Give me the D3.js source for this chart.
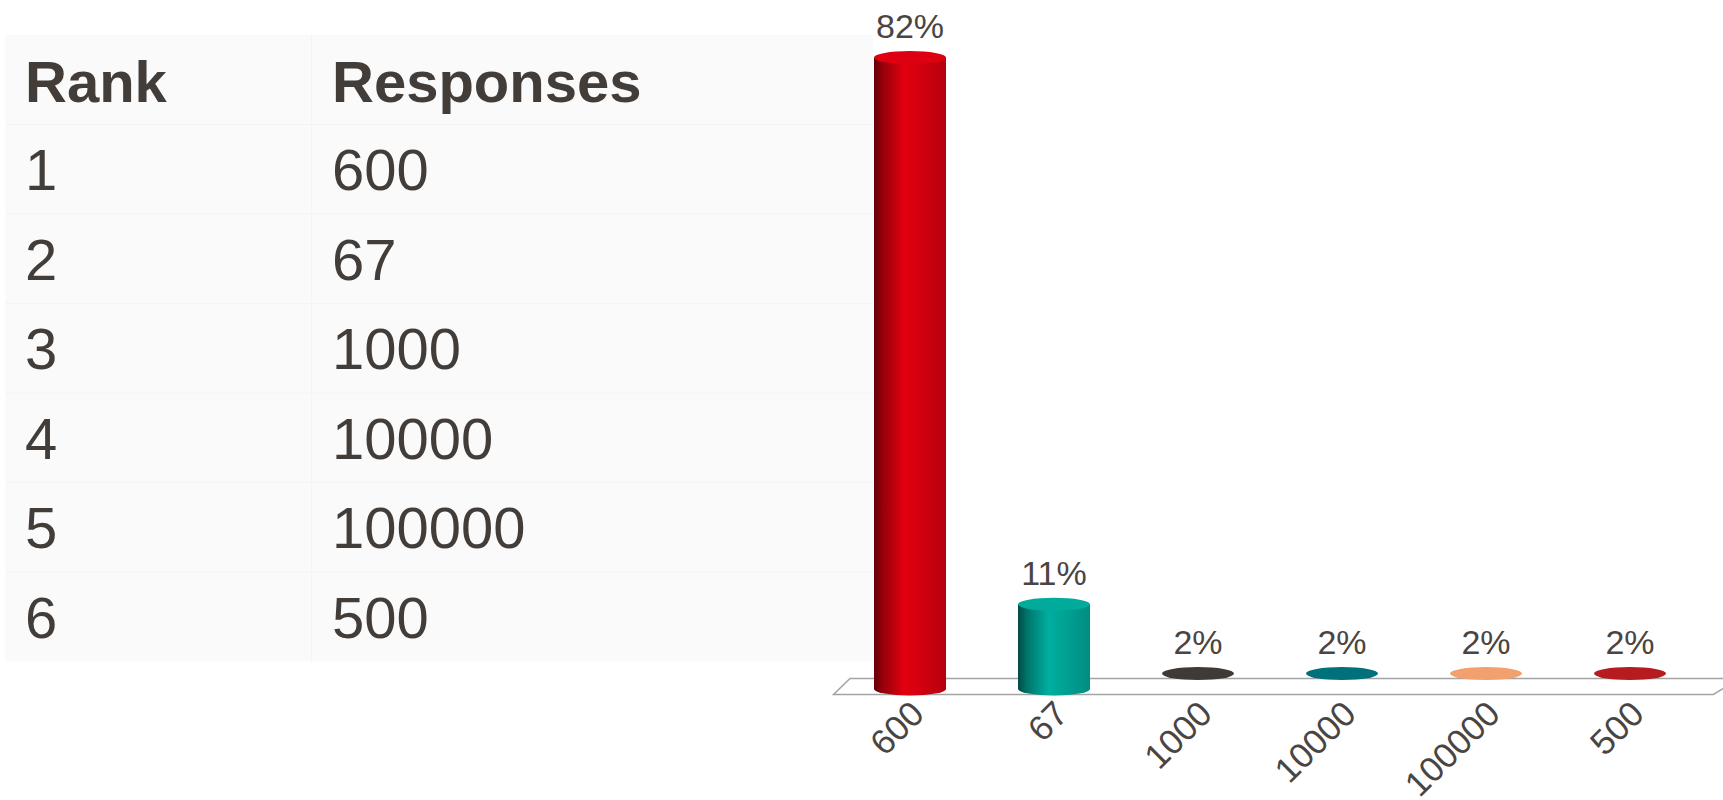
<!DOCTYPE html>
<html>
<head>
<meta charset="utf-8">
<script src="https://cdn.jsdelivr.net/npm/d3@7"></script>
<style>
  html, body { margin: 0; padding: 0; background: #ffffff; }
  svg { display: block; font-family: "Liberation Sans", Arial, sans-serif; }
</style>
</head>
<body>
<svg id="chart" width="1723" height="800"></svg>
<script>
// Response options and their share of answers
const ranks = [1, 2, 3, 4, 5, 6];
const responses = ["600", "67", "1000", "10000", "100000", "500"];
const percents = [82, 11, 2, 2, 2, 2];
const tableHeaders = ["Rank", "Responses"];
const barColors = ["#d6000f", "#00a597", "#403a37", "#00717b", "#f2a06e", "#b51b1f"];

const svg = d3.select("#chart");
const textColor = "#433d3a";

// ---------- table ----------
const tbl = { x: 5, y: 35, width: 868, headerH: 89.5, rowH: 89.5, col2: 311.5 };
const tableH = tbl.headerH + tbl.rowH * ranks.length;
const tg = svg.append("g");

tg.append("rect")
  .attr("x", tbl.x).attr("y", tbl.y)
  .attr("width", tbl.width).attr("height", tableH)
  .attr("fill", "#fafafa");

// faint cell borders
tg.append("line")
  .attr("x1", tbl.col2).attr("x2", tbl.col2)
  .attr("y1", tbl.y).attr("y2", tbl.y + tableH)
  .attr("stroke", "#f4f4f4").attr("stroke-width", 1);
tg.selectAll("line.row")
  .data(ranks)
  .join("line")
  .attr("class", "row")
  .attr("x1", tbl.x).attr("x2", tbl.x + tbl.width)
  .attr("y1", (d, i) => tbl.y + tbl.headerH + i * tbl.rowH)
  .attr("y2", (d, i) => tbl.y + tbl.headerH + i * tbl.rowH)
  .attr("stroke", "#f4f4f4").attr("stroke-width", 1);

const colX = [25, 332];
tg.selectAll("text.head")
  .data(tableHeaders)
  .join("text")
  .attr("class", "head")
  .attr("x", (d, i) => colX[i])
  .attr("y", tbl.y + tbl.headerH / 2 + 22)
  .attr("font-size", 58)
  .attr("font-weight", "bold")
  .attr("fill", textColor)
  .text(d => d);

const rowCenter = i => tbl.y + tbl.headerH + i * tbl.rowH + tbl.rowH / 2;
tg.selectAll("text.rank")
  .data(ranks)
  .join("text")
  .attr("class", "rank")
  .attr("x", colX[0])
  .attr("y", (d, i) => rowCenter(i) + 21)
  .attr("font-size", 58)
  .attr("fill", textColor)
  .text(d => d);
tg.selectAll("text.resp")
  .data(responses)
  .join("text")
  .attr("class", "resp")
  .attr("x", colX[1])
  .attr("y", (d, i) => rowCenter(i) + 21)
  .attr("font-size", 58)
  .attr("fill", textColor)
  .text(d => d);

// ---------- 3D cylinder bar chart ----------
const baseY = 689;
const x = d3.scaleBand()
  .domain(responses)
  .range([838, 1702])
  .paddingInner(0.5)
  .paddingOuter(0.25);
const y = d3.scaleLinear().domain([0, 100]).range([baseY, baseY - 770]);

const ry = 6.5;            // vertical radius of the cylinder ellipses
const floorTop = 678.5, floorBottom = 694.5, skew = 16.5;
const floorDepth = baseY - floorTop + ry;

const defs = svg.append("defs");
const shadeStops = (c) => {
  const col = d3.color(c);
  return [
    [0, col.darker(2.2)],
    [0.12, col.darker(1.0)],
    [0.42, col.brighter(0.15)],
    [0.6, col],
    [1, col.darker(0.45)]
  ];
};
barColors.forEach((c, i) => {
  const g = defs.append("linearGradient")
    .attr("id", "shade" + i)
    .attr("x1", "0%").attr("x2", "100%").attr("y1", "0%").attr("y2", "0%");
  shadeStops(c).forEach(([o, s]) => {
    g.append("stop").attr("offset", o).attr("stop-color", s.formatHex());
  });
});

// floor slab
const cg = svg.append("g");
cg.append("path")
  .attr("d", `M${850},${floorTop} L${1723 + skew},${floorTop} L${1713.5},${floorBottom} L${850 - skew},${floorBottom} Z`)
  .attr("fill", "#ffffff")
  .attr("stroke", "#a3a3a3")
  .attr("stroke-width", 1.5);

const bars = responses.map((r, i) => ({ key: r, value: percents[i], color: barColors[i], idx: i }));
const bw = x.bandwidth();

const barG = cg.selectAll("g.bar")
  .data(bars)
  .join("g")
  .attr("class", "bar");

// cylinder bodies; bars shallower than the floor slab show only their caps
barG.filter(d => baseY - y(d.value) > floorDepth)
  .append("path")
  .attr("d", d => {
    const l = x(d.key), r = l + bw, t = y(d.value);
    return `M${l},${t} L${l},${baseY} A${bw / 2},${ry} 0 0 0 ${r},${baseY} L${r},${t} Z`;
  })
  .attr("fill", d => `url(#shade${d.idx})`);

// top caps
barG.append("ellipse")
  .attr("cx", d => x(d.key) + bw / 2)
  .attr("cy", d => y(d.value))
  .attr("rx", bw / 2)
  .attr("ry", ry)
  .attr("fill", d => {
    const h = baseY - y(d.value);
    return h > floorDepth ? d3.color(d.color).brighter(0.1).formatHex() : d.color;
  });

// value labels
barG.append("text")
  .attr("x", d => x(d.key) + bw / 2)
  .attr("y", d => y(d.value) - ry - 13)
  .attr("text-anchor", "middle")
  .attr("font-size", 34)
  .attr("fill", "#4a4542")
  .text(d => d.value + "%");

// category axis labels, rotated
const axis = d3.axisBottom(x).tickSize(0).tickPadding(0);
const axG = cg.append("g")
  .attr("transform", `translate(0,${716})`)
  .call(axis);
axG.select(".domain").remove();
axG.selectAll(".tick text")
  .attr("font-family", "'Liberation Sans', Arial, sans-serif")
  .attr("font-size", 35)
  .attr("fill", "#4a4542")
  .attr("text-anchor", "end")
  .attr("dy", 0)
  .attr("y", 0)
  .attr("x", 0)
  .attr("transform", "translate(16,0) rotate(-45)");
</script>
</body>
</html>
